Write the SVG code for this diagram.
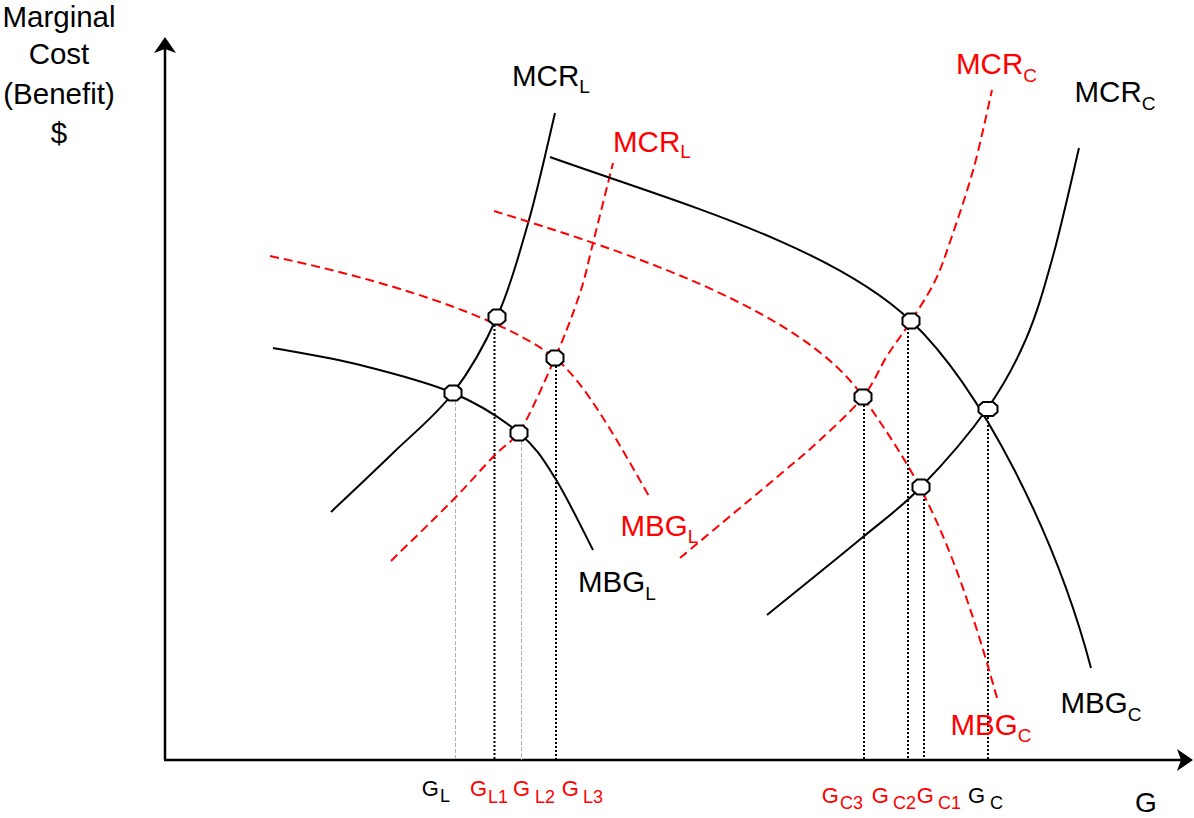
<svg xmlns="http://www.w3.org/2000/svg" width="1194" height="818" viewBox="0 0 1194 818">
<style>
text{font-family:"Liberation Sans",Arial,sans-serif;}
.lab{font-size:29.5px;}
.sub{font-size:19px;}
.g{font-size:22px;}
.gs{font-size:18px;}
.red{fill:#FF0000;}
.curve{fill:none;stroke:#000;stroke-width:2;}
.rcurve{fill:none;stroke:#FF0000;stroke-width:2;stroke-dasharray:9 5;}
.dot{stroke:#000;stroke-width:2;stroke-dasharray:2 2;}
.gray{stroke:#b0b0b0;stroke-width:1;stroke-dasharray:4 2;}
.axis{stroke:#000;stroke-width:2.5;fill:none;}
.oct{fill:#fff;stroke:#000;stroke-width:2;}
</style>
<defs>
<polygon id="oct" class="oct" points="-4,-7.5 4,-7.5 8.5,-3.5 8.5,3.5 4,7.5 -4,7.5 -8.5,3.5 -8.5,-3.5"/>
<polygon id="octw" class="oct" points="-5,-7 5,-7 9.5,-3 9.5,3 5,7 -5,7 -9.5,3 -9.5,-3"/>
</defs>
<g id="axes">
<line class="axis" x1="165" y1="760" x2="165" y2="48"/>
<polygon points="165,37 176,53 165,49 154,53" fill="#000"/>
<line class="axis" x1="164" y1="760" x2="1182" y2="760"/>
<polygon points="1193,760 1177,771 1181,760 1177,749" fill="#000"/>
</g>
<g id="axis-labels">
<text class="lab" x="59" y="27" text-anchor="middle">Marginal</text>
<text class="lab" x="59" y="64" text-anchor="middle">Cost</text>
<text class="lab" x="59" y="104" text-anchor="middle">(Benefit)</text>
<text class="lab" x="59" y="143" text-anchor="middle">$</text>
<text x="1135" y="812" style="font-size:28px">G</text>
</g>
<g id="connectors">
<line class="gray" x1="455.5" y1="401" x2="455.5" y2="760"/>
<line class="dot" x1="494.5" y1="325" x2="494.5" y2="760"/>
<line class="gray" x1="521.5" y1="441" x2="521.5" y2="760"/>
<line class="dot" x1="556" y1="366" x2="556" y2="760"/>
<line class="dot" x1="864" y1="405" x2="864" y2="760"/>
<line class="dot" x1="908" y1="328" x2="908" y2="760"/>
<line class="dot" x1="924" y1="495" x2="924" y2="760"/>
<line class="dot" x1="988" y1="417" x2="988" y2="760"/>
</g>
<g id="MCR_L_black">
<path class="curve" d="M331,512 C341.3,502.2 372.7,472.8 393,453 C413.3,433.2 435.7,415.7 453,393 C470.3,370.3 484.3,345.8 497,317 C509.7,288.2 519.3,254 529,220 C538.7,186 550.7,130.8 555,113"/>
<text class="lab" x="512" y="86">MCR<tspan class="sub" dy="7">L</tspan></text>
</g>
<g id="MBG_L_black">
<path class="curve" d="M273,348 C287.5,350.8 330,357.5 360,365 C390,372.5 426.5,381.7 453,393 C479.5,404.3 502,418.8 519,433 C536,447.2 542.7,458.5 555,478 C567.3,497.5 586.7,538 593,550"/>
<text class="lab" x="578" y="592">MBG<tspan class="sub" dy="8">L</tspan></text>
</g>
<g id="MBG_L_red">
<path class="rcurve" d="M270,256 C420,287.5 515,326.4 555,358 C585,381.7 620,445.2 650,498"/>
<text class="lab red" x="620.5" y="536">MBG<tspan class="sub" dy="7">L</tspan></text>
</g>
<g id="MCR_L_red">
<path class="rcurve" d="M391,561 C401.3,550.8 436,517.3 453,500 C470,482.7 482,468.2 493,457 C504,445.8 510,443 519,433 C529.3,416.5 544.8,381.3 555,358 C565.2,334.7 573.7,312.2 580,293 C586.3,273.8 587.5,264.7 593,243 C598.5,221.3 609.7,176.3 613,163"/>
<text class="lab red" x="613" y="152">MCR<tspan class="sub" dy="6">L</tspan></text>
</g>
<g id="MBG_C_black">
<path class="curve" d="M550,157 C670,200 831,245 911,321 C981,387.5 1056,535 1091,668"/>
<text class="lab" x="1060.5" y="713">MBG<tspan class="sub" dy="8">C</tspan></text>
</g>
<g id="MCR_C_black">
<path class="curve" d="M767,615 C783,602 837.3,558.3 863,537 C888.7,515.7 900.3,508.3 921,487 C941.7,465.7 969.5,433.7 987,409 C1004.5,384.3 1015,364.5 1026,339 C1037,313.5 1044.2,287.8 1053,256 C1061.8,224.2 1074.7,166 1079,148"/>
<text class="lab" x="1074.5" y="102">MCR<tspan class="sub" dy="8">C</tspan></text>
</g>
<g id="MCR_C_red">
<path class="rcurve" d="M680,558 C690,549.7 722.8,522.3 740,508 C757.2,493.7 769.7,483.3 783,472 C796.3,460.7 806.7,452.5 820,440 C833.3,427.5 851.8,411 863,397 C874.2,383 879,368.7 887,356 C895,343.3 903,333.5 911,321 C919,308.5 928.3,294.7 935,281 C941.7,267.3 944.5,258 951,239 C957.5,220 967.2,191.8 974,167 C980.8,142.2 989,102.8 992,90"/>
<text class="lab red" x="956" y="74">MCR<tspan class="sub" dy="8">C</tspan></text>
</g>
<g id="MBG_C_red">
<path class="rcurve" d="M494,211 C624,251 803,309.4 863,397 C913,470 947,518 997,698"/>
<text class="lab red" x="950.5" y="735">MBG<tspan class="sub" dy="7">C</tspan></text>
</g>
<g id="intersections">
<use href="#oct" x="497" y="317"/>
<use href="#oct" x="453" y="393"/>
<use href="#oct" x="555" y="358"/>
<use href="#oct" x="519" y="433"/>
<use href="#oct" x="911" y="321"/>
<use href="#oct" x="863" y="397"/>
<use href="#octw" x="988" y="409"/>
<use href="#oct" x="921" y="487"/>
</g>
<g id="tick-labels">
<text class="g" x="421.7" y="796">G<tspan class="gs" x="440" y="802">L</tspan></text>
<text class="g red" x="470" y="796">G<tspan class="gs" x="488" y="803">L1</tspan></text>
<text class="g red" x="513" y="796">G<tspan class="gs" x="535" y="803">L2</tspan></text>
<text class="g red" x="561.7" y="796">G<tspan class="gs" x="583" y="803">L3</tspan></text>
<text class="g red" x="821.7" y="803">G<tspan class="gs" x="840" y="808.5">C3</tspan></text>
<text class="g red" x="871.7" y="803">G<tspan class="gs" x="893" y="808.5">C2</tspan></text>
<text class="g red" x="916.7" y="803">G<tspan class="gs" x="938" y="808.5">C1</tspan></text>
<text class="g" x="968" y="803">G<tspan class="gs" x="990" y="808.5">C</tspan></text>
</g>
</svg>
